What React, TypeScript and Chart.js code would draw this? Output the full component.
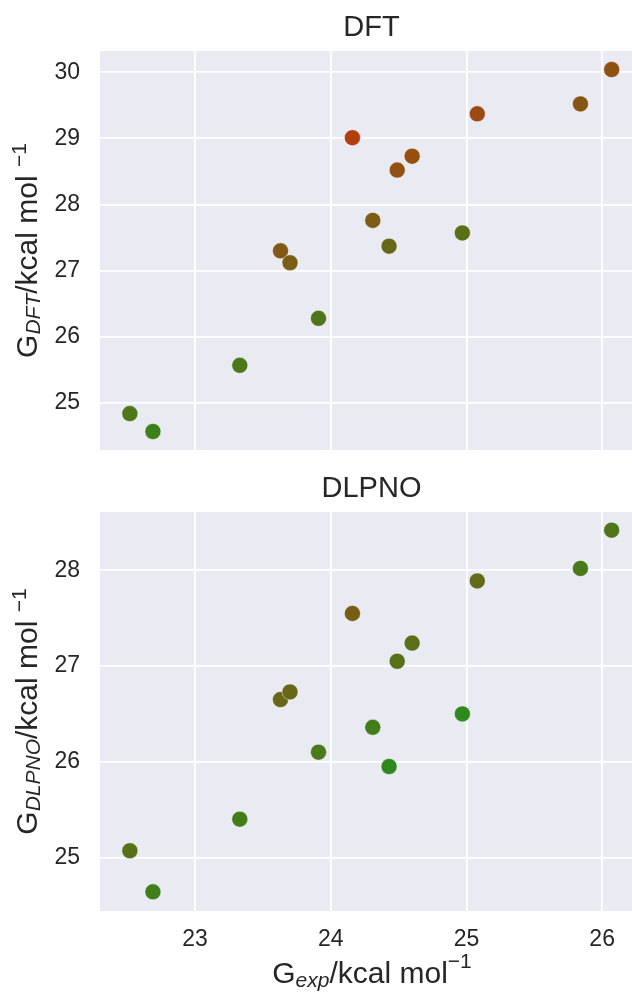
import React, { useEffect, useRef } from "react";
import { Chart, registerables } from "chart.js";

Chart.register(...registerables);

// ---- data ----
const gExp = [22.52, 22.69, 23.33, 23.91, 23.63, 23.70, 24.16, 24.31, 24.43, 24.49, 24.60, 24.97, 25.08, 25.84, 26.07];
const gDft = [24.84, 24.57, 25.57, 26.28, 27.30, 27.12, 29.01, 27.76, 27.37, 28.52, 28.73, 27.57, 29.37, 29.52, 30.04];
const gDlpno = [25.07, 24.64, 25.40, 26.10, 26.65, 26.73, 27.55, 26.36, 25.95, 27.05, 27.24, 26.50, 27.89, 28.02, 28.42];

const xTicks = [23, 24, 25, 26];
const dftTicks = [25, 26, 27, 28, 29, 30];
const dlpnoTicks = [25, 26, 27, 28];

const titleDft = "DFT";
const titleDlpno = "DLPNO";

// ---- style ----
const FONT = '"Liberation Sans", Arial, "DejaVu Sans", sans-serif';
const TEXT = "#262626";
const BG = "#EAEAF2";
const GREEN = [46, 136, 30];
const RED = [178, 62, 14];
const ERR_LO = 1.53;
const ERR_HI = 4.84;

function colorFor(err: number): string {
  let t = (err - ERR_LO) / (ERR_HI - ERR_LO);
  t = Math.max(0, Math.min(1, t));
  const c = GREEN.map((g, i) => Math.round(g + (RED[i] - g) * t));
  return `rgb(${c[0]},${c[1]},${c[2]})`;
}

type Seg = { t: string; size: number; italic?: boolean; dy?: number };

function drawRich(ctx: CanvasRenderingContext2D, segs: Seg[], cx: number, baseline: number) {
  const widths: number[] = [];
  let total = 0;
  for (const s of segs) {
    ctx.font = `${s.italic ? "italic " : ""}${s.size}px ${FONT}`;
    const w = ctx.measureText(s.t).width;
    widths.push(w);
    total += w;
  }
  let x = cx - total / 2;
  ctx.textAlign = "left";
  ctx.textBaseline = "alphabetic";
  ctx.fillStyle = TEXT;
  segs.forEach((s, i) => {
    ctx.font = `${s.italic ? "italic " : ""}${s.size}px ${FONT}`;
    ctx.fillText(s.t, x, baseline + (s.dy || 0));
    x += widths[i];
  });
}

const MAIN = 30;
const SUB = 21;

function yLabelSegs(sub: string): Seg[] {
  return [
    { t: "G", size: MAIN },
    { t: sub, size: SUB, italic: true, dy: 3 },
    { t: "/kcal mol ", size: MAIN },
    { t: "\u22121", size: SUB, dy: -11 },
  ];
}

const xLabelSegs: Seg[] = [
  { t: "G", size: MAIN },
  { t: "exp", size: SUB, italic: true, dy: 4 },
  { t: "/kcal mol", size: MAIN },
  { t: "\u22121", size: SUB, dy: -15 },
];

function makeDecor(title: string, ySegs: Seg[], withX: boolean) {
  return {
    id: "decor",
    beforeDraw(chart: any) {
      const { ctx, chartArea } = chart;
      ctx.save();
      ctx.fillStyle = BG;
      ctx.fillRect(chartArea.left, chartArea.top, chartArea.right - chartArea.left, chartArea.bottom - chartArea.top);
      ctx.restore();
    },
    afterDraw(chart: any) {
      const { ctx, chartArea } = chart;
      ctx.save();
      ctx.fillStyle = TEXT;
      ctx.font = `29px ${FONT}`;
      ctx.textAlign = "center";
      ctx.textBaseline = "alphabetic";
      ctx.fillText(title, 371.5, chartArea.top - 15);
      ctx.save();
      ctx.translate(37, (chartArea.top + chartArea.bottom) / 2);
      ctx.rotate(-Math.PI / 2);
      drawRich(ctx, ySegs, 0, 0);
      ctx.restore();
      if (withX) {
        drawRich(ctx, xLabelSegs, 372, chartArea.bottom + 72);
      }
      ctx.restore();
    },
  };
}

function buildConfig(
  yVals: number[],
  yTicks: number[],
  yMin: number,
  yMax: number,
  padTop: number,
  xAxisHeight: number,
  showX: boolean,
  title: string,
  ySub: string
): any {
  const pts = gExp.map((x, i) => ({ x, y: yVals[i] }));
  const colors = gExp.map((x, i) => colorFor(yVals[i] - x));
  return {
    type: "scatter",
    data: {
      datasets: [
        {
          data: pts,
          pointRadius: 8,
          pointHoverRadius: 8,
          pointBackgroundColor: colors,
          pointBorderColor: "rgba(255,255,255,0.45)",
          pointBorderWidth: 1,
        },
      ],
    },
    options: {
      responsive: false,
      animation: false,
      events: [],
      layout: { autoPadding: false, padding: { top: padTop, left: 0, right: 0, bottom: 0 } },
      plugins: { legend: { display: false }, tooltip: { enabled: false }, title: { display: false } },
      scales: {
        x: {
          type: "linear",
          min: 22.3,
          max: 26.22,
          border: { display: false },
          grid: { color: "#FFFFFF", lineWidth: 1.8, drawTicks: false },
          ticks: {
            display: showX,
            includeBounds: false,
            color: TEXT,
            font: { family: FONT, size: 23 },
            padding: 15,
            maxRotation: 0,
          },
          afterBuildTicks: (s: any) => {
            s.ticks = xTicks.map((v) => ({ value: v }));
          },
          afterFit: (s: any) => {
            s.height = xAxisHeight;
            s.paddingLeft = 0;
            s.paddingRight = 0;
          },
        },
        y: {
          type: "linear",
          min: yMin,
          max: yMax,
          border: { display: false },
          grid: { color: "#FFFFFF", lineWidth: 1.8, drawTicks: false },
          ticks: {
            includeBounds: false,
            color: TEXT,
            font: { family: FONT, size: 23 },
            padding: 20,
          },
          afterBuildTicks: (s: any) => {
            s.ticks = yTicks.map((v) => ({ value: v }));
          },
          afterFit: (s: any) => {
            s.width = 100;
            s.paddingTop = 0;
            s.paddingBottom = 0;
          },
        },
      },
    },
    plugins: [makeDecor(title, yLabelSegs(ySub), showX)],
  };
}

function ScatterPanel(props: { cfg: () => any; width: number; height: number; top: number }) {
  const ref = useRef<HTMLCanvasElement | null>(null);
  useEffect(() => {
    if (!ref.current) return;
    const chart = new Chart(ref.current, props.cfg());
    return () => chart.destroy();
  }, []);
  return (
    <canvas
      ref={ref}
      width={props.width}
      height={props.height}
      style={{ position: "absolute", left: 0, top: props.top, width: props.width, height: props.height }}
    />
  );
}

export default function App() {
  return (
    <div style={{ position: "absolute", left: 0, top: 0, width: 632, height: 994, background: "#FFFFFF" }}>
      <ScatterPanel
        top={0}
        width={632}
        height={475}
        cfg={() => buildConfig(gDft, dftTicks, 24.29, 30.32, 51, 25, false, titleDft, "DFT")}
      />
      <ScatterPanel
        top={475}
        width={632}
        height={519}
        cfg={() => buildConfig(gDlpno, dlpnoTicks, 24.44, 28.61, 37, 83, true, titleDlpno, "DLPNO")}
      />
    </div>
  );
}
